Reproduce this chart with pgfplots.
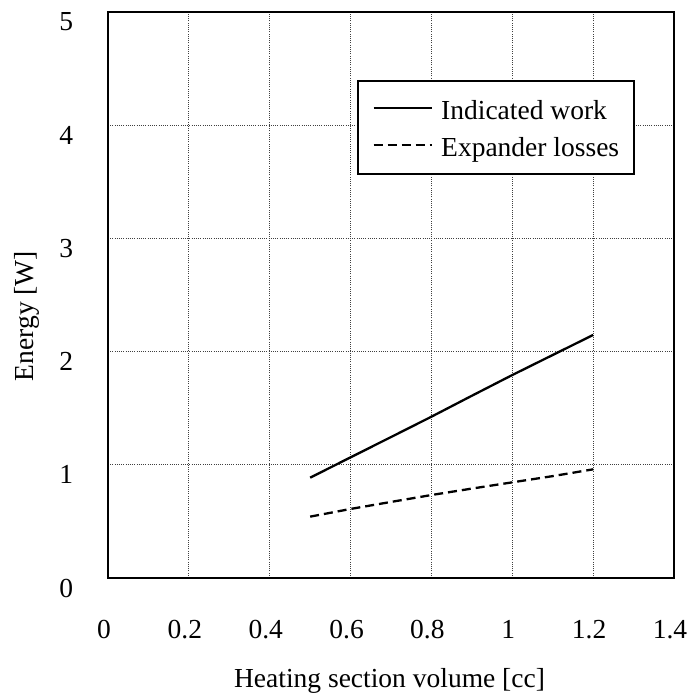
\documentclass[border=0pt]{standalone}
\usepackage{fontspec}
\setmainfont{Liberation Serif}
\usepackage{pgfplots}
\pgfplotsset{compat=1.18}
\begin{document}
\begin{tikzpicture}[font=\fontsize{27.5}{33}\selectfont]
\path[use as bounding box] (0pt,0pt) rectangle (695pt,696pt);
\begin{axis}[
  at={(108pt,118pt)}, anchor=south west,
  scale only axis, width=566pt, height=566pt,
  xmin=0, xmax=1.4, ymin=0, ymax=5,
  xtick={0,0.2,0.4,0.6,0.8,1,1.2,1.4},
  xticklabels={0,0.2,0.4,0.6,0.8,1,1.2,1.4},
  ytick={0,1,2,3,4,5},
  /pgf/number format/assume math mode=true,
  major tick length=0pt,
  axis line style={line width=2pt},
  grid=major,
  major grid style={black!75, line width=0.8pt, dash pattern=on 1pt off 1.2pt},
  xticklabel style={anchor=base, inner sep=0pt, yshift=-60pt, xshift=-4pt},
  yticklabel style={anchor=east, inner sep=0pt, xshift=-34.7pt, yshift=-10pt},
  xlabel={Heating section volume [cc]},
  ylabel={Energy [W]},
  xlabel style={at={(axis description cs:0.4974,-0.1926)}, anchor=base, inner sep=0pt},
  ylabel style={at={(axis description cs:-0.1431,0.4629)}, anchor=center, inner sep=0pt},
  legend cell align=left,
  legend image code/.code={\draw[#1, line width=2pt] (0pt,1pt) -- (58pt,1pt);},
  legend style={at={(axis description cs:0.4394,0.8799)}, anchor=north west,
    draw=black, /tikz/line width=2pt, fill=white,
    inner xsep=15pt, inner ysep=11.3pt,
    /tikz/column sep=8.5pt, /tikz/row sep=3.9pt,
    nodes={inner sep=0pt, text height=27pt, text depth=6.1pt}},
]
\addplot[black, line width=2.3pt] coordinates {
 (0.5,0.886) (0.6,1.066) (0.7,1.245) (0.8,1.425) (0.9,1.61) (1.0,1.793) (1.1,1.97) (1.2,2.147)};
\addlegendentry{Indicated work}
\addplot[black, line width=2.3pt, dash pattern=on 9pt off 5pt] coordinates {
 (0.5,0.542) (0.6,0.61) (0.7,0.672) (0.8,0.733) (0.9,0.79) (1.0,0.845) (1.1,0.90) (1.2,0.96)};
\addlegendentry{Expander losses}
\end{axis}
\end{tikzpicture}
\end{document}
